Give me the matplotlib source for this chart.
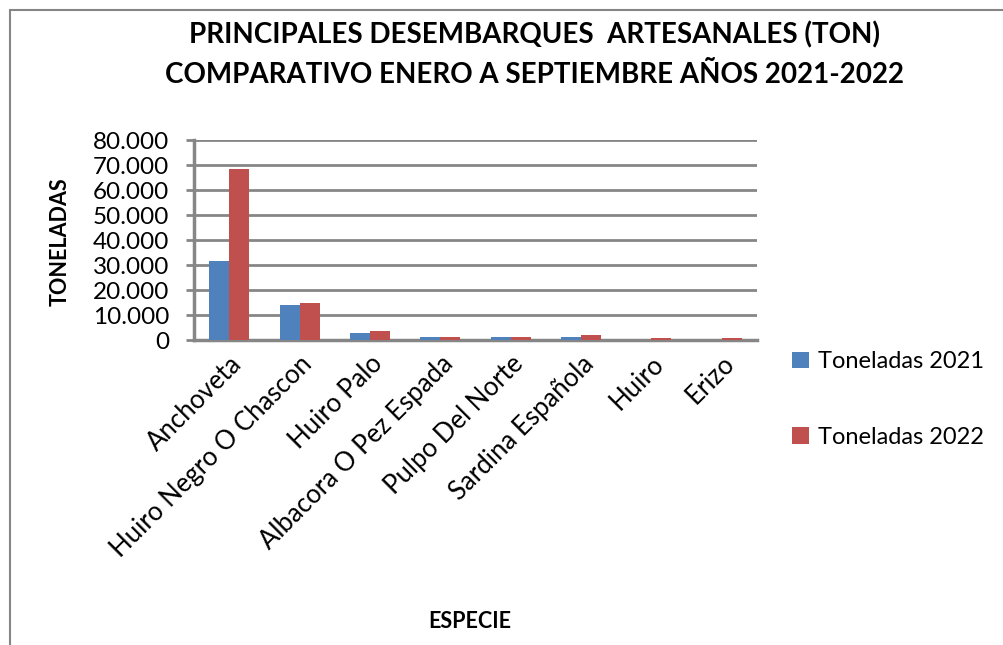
import matplotlib.pyplot as plt
import numpy as np
from matplotlib.patches import Rectangle
from matplotlib.ticker import FuncFormatter

plt.rcParams['font.family'] = ['Lato', 'DejaVu Sans']

especies = ['Anchoveta', 'Huiro Negro O Chascon', 'Huiro Palo', 'Albacora O Pez Espada',
            'Pulpo Del Norte', 'Sardina Española', 'Huiro', 'Erizo']
ton_2021 = [31700, 14000, 2800, 1200, 1200, 1200, 0, 0]
ton_2022 = [68500, 14800, 3600, 1200, 1200, 2000, 900, 900]

fig = plt.figure(figsize=(10.04, 6.45), dpi=100)
ax = fig.add_axes([194 / 1004, 1 - 340 / 645, 563 / 1004, 200 / 645])

x = np.arange(len(especies))
w = 0.285
b1 = ax.bar(x - w / 2, ton_2021, w, color='#4f81bd', label='Toneladas 2021', zorder=3)
b2 = ax.bar(x + w / 2, ton_2022, w, color='#c0504d', label='Toneladas 2022', zorder=3)

ax.set_xlim(-0.5, len(especies) - 0.5)
ax.set_ylim(0, 80000)
ax.set_yticks(np.arange(0, 80001, 10000))
ax.yaxis.set_major_formatter(FuncFormatter(lambda v, p: f'{int(v):,}'.replace(',', '.')))
ax.grid(axis='y', color='#868686', linewidth=2, zorder=0)
for s in ['top', 'right']:
    ax.spines[s].set_visible(False)
for s in ['left', 'bottom']:
    ax.spines[s].set_color('#868686')
    ax.spines[s].set_linewidth(2.5)
ax.tick_params(axis='y', length=6, width=2, color='#868686', labelsize=17.5, pad=12)
ax.tick_params(axis='x', length=0, labelsize=18.5, pad=8)
ax.set_xticks(x)
ax.set_xticklabels(especies, rotation=45, ha='right', rotation_mode='anchor')

fig.text(60 / 1004, 1 - 242 / 645, 'TONELADAS', rotation=90, fontsize=15.5, fontweight='bold',
         ha='center', va='center')
fig.text(470 / 1004, 1 - 622 / 645, 'ESPECIE', fontsize=15.5, fontweight='bold',
         ha='center', va='center')
fig.text(535 / 1004, 1 - 35 / 645, 'PRINCIPALES DESEMBARQUES  ARTESANALES (TON)',
         fontsize=20, fontweight='bold', ha='center', va='center')
fig.text(535 / 1004, 1 - 75 / 645, 'COMPARATIVO ENERO A SEPTIEMBRE AÑOS 2021-2022',
         fontsize=20, fontweight='bold', ha='center', va='center')

fig.legend(handles=[b1, b2], loc='upper left', bbox_to_anchor=(771 / 1004, 1 - 330 / 645),
           frameon=False, fontsize=17, handlelength=0.7, handleheight=0.7,
           labelspacing=2.3, handletextpad=0.4)

fig.patches.append(Rectangle((10 / 1004, -0.1), 1.1, 1 - 10 / 645 + 0.1, transform=fig.transFigure,
                             fill=False, edgecolor='#868686', linewidth=1.5))

fig.savefig('out.png', dpi=100)
